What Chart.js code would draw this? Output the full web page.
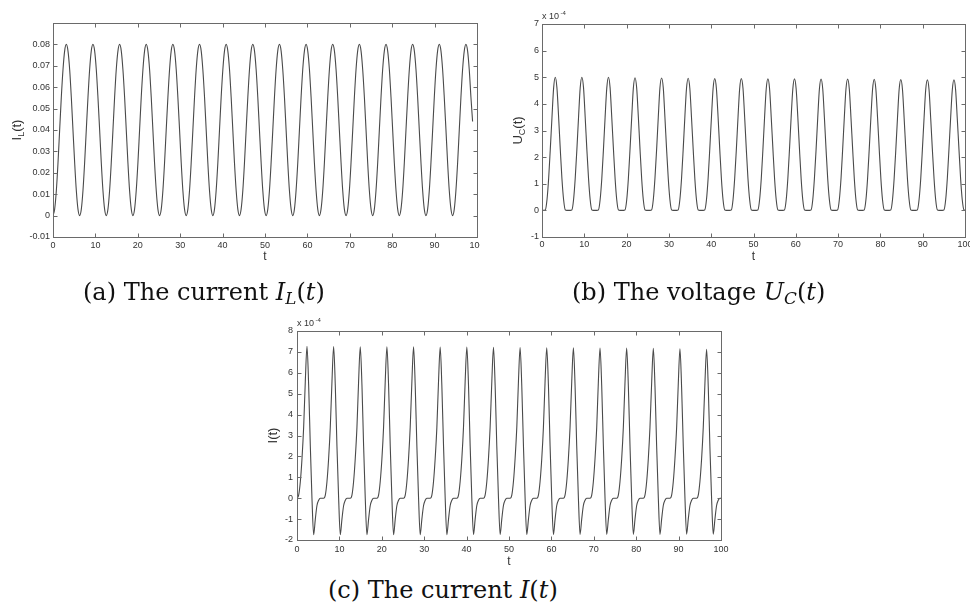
<!DOCTYPE html>
<html>
<head>
<meta charset="utf-8">
<script src="https://cdn.jsdelivr.net/npm/chart.js@4/dist/chart.umd.min.js"></script>
<style>
  html, body { margin: 0; padding: 0; background: #fff; }
  body { width: 970px; height: 615px; position: relative; overflow: hidden; }
  .panel { position: absolute; overflow: hidden; }
  .cap { position: absolute; font-family: "DejaVu Serif", serif; font-size: 24px; line-height: 24px; color: #111; white-space: nowrap; }
  .cap sub { font-size: 70%; vertical-align: -0.25em; line-height: 0; }
</style>
</head>
<body>
<div class="panel" style="left:0;top:0;width:480px;height:265px"><canvas id="chartIL" width="492" height="265"></canvas></div>
<div class="panel" style="left:490px;top:0;width:480px;height:265px"><canvas id="chartUC" width="490" height="265"></canvas></div>
<div class="panel" style="left:250px;top:300px;width:490px;height:275px"><canvas id="chartI" width="490" height="275"></canvas></div>

<div class="cap" style="left:83px;top:280px">(a) The current <i>I</i><sub><i>L</i></sub>(<i>t</i>)</div>
<div class="cap" style="left:572px;top:280px">(b) The voltage <i>U</i><sub><i>C</i></sub>(<i>t</i>)</div>
<div class="cap" style="left:328px;top:578px">(c) The current <i>I</i>(<i>t</i>)</div>

<script>
// time samples (one row per oscillation, ~2*pi long)
const tGrid = [
  0, 0.39, 0.79, 1.18, 1.57, 1.96, 2.36, 2.75, 3.14, 3.53, 3.93, 4.32, 4.71, 5.11, 5.50, 5.89,
  6.28, 6.68, 7.07, 7.46, 7.85, 8.25, 8.64, 9.03, 9.42, 9.82, 10.21, 10.60, 11.00, 11.39, 11.78, 12.17,
  12.57, 12.96, 13.35, 13.74, 14.14, 14.53, 14.92, 15.32, 15.71, 16.10, 16.49, 16.89, 17.28, 17.67, 18.06, 18.46,
  18.85, 19.24, 19.63, 20.03, 20.42, 20.81, 21.21, 21.60, 21.99, 22.38, 22.78, 23.17, 23.56, 23.95, 24.35, 24.74,
  25.13, 25.53, 25.92, 26.31, 26.70, 27.10, 27.49, 27.88, 28.27, 28.67, 29.06, 29.45, 29.85, 30.24, 30.63, 31.02,
  31.42, 31.81, 32.20, 32.59, 32.99, 33.38, 33.77, 34.16, 34.56, 34.95, 35.34, 35.74, 36.13, 36.52, 36.91, 37.31,
  37.70, 38.09, 38.48, 38.88, 39.27, 39.66, 40.06, 40.45, 40.84, 41.23, 41.63, 42.02, 42.41, 42.80, 43.20, 43.59,
  43.98, 44.37, 44.77, 45.16, 45.55, 45.95, 46.34, 46.73, 47.12, 47.52, 47.91, 48.30, 48.69, 49.09, 49.48, 49.87,
  50.27, 50.66, 51.05, 51.44, 51.84, 52.23, 52.62, 53.01, 53.41, 53.80, 54.19, 54.59, 54.98, 55.37, 55.76, 56.16,
  56.55, 56.94, 57.33, 57.73, 58.12, 58.51, 58.90, 59.30, 59.69, 60.08, 60.48, 60.87, 61.26, 61.65, 62.05, 62.44,
  62.83, 63.22, 63.62, 64.01, 64.40, 64.80, 65.19, 65.58, 65.97, 66.37, 66.76, 67.15, 67.54, 67.94, 68.33, 68.72,
  69.12, 69.51, 69.90, 70.29, 70.69, 71.08, 71.47, 71.86, 72.26, 72.65, 73.04, 73.44, 73.83, 74.22, 74.61, 75.01,
  75.40, 75.79, 76.18, 76.58, 76.97, 77.36, 77.75, 78.15, 78.54, 78.93, 79.33, 79.72, 80.11, 80.50, 80.90, 81.29,
  81.68, 82.07, 82.47, 82.86, 83.25, 83.65, 84.04, 84.43, 84.82, 85.22, 85.61, 86.00, 86.39, 86.79, 87.18, 87.57,
  87.96, 88.36, 88.75, 89.14, 89.54, 89.93, 90.32, 90.71, 91.11, 91.50, 91.89, 92.28, 92.68, 93.07, 93.46, 93.86,
  94.25, 94.64, 95.03, 95.43, 95.82, 96.21, 96.60, 97.00, 97.39, 97.78, 98.17, 98.57, 98.96, 99.35, 99.75, 100
];

// (a) current I_L(t)
const currentIL = [
  0, 0.003, 0.0117, 0.0247, 0.04, 0.0553, 0.0683, 0.077, 0.08, 0.077, 0.0683, 0.0553, 0.04, 0.0247, 0.0117, 0.003,
  0, 0.003, 0.0117, 0.0247, 0.04, 0.0553, 0.0683, 0.077, 0.08, 0.077, 0.0683, 0.0553, 0.04, 0.0247, 0.0117, 0.003,
  0, 0.003, 0.0117, 0.0247, 0.04, 0.0553, 0.0683, 0.077, 0.08, 0.077, 0.0683, 0.0553, 0.04, 0.0247, 0.0117, 0.003,
  0, 0.003, 0.0117, 0.0247, 0.04, 0.0553, 0.0683, 0.077, 0.08, 0.077, 0.0683, 0.0553, 0.04, 0.0247, 0.0117, 0.003,
  0, 0.003, 0.0117, 0.0247, 0.04, 0.0553, 0.0683, 0.077, 0.08, 0.077, 0.0683, 0.0553, 0.04, 0.0247, 0.0117, 0.003,
  0, 0.003, 0.0117, 0.0247, 0.04, 0.0553, 0.0683, 0.077, 0.08, 0.077, 0.0683, 0.0553, 0.04, 0.0247, 0.0117, 0.003,
  0, 0.003, 0.0117, 0.0247, 0.04, 0.0553, 0.0683, 0.077, 0.08, 0.077, 0.0683, 0.0553, 0.04, 0.0247, 0.0117, 0.003,
  0, 0.003, 0.0117, 0.0247, 0.04, 0.0553, 0.0683, 0.077, 0.08, 0.077, 0.0683, 0.0553, 0.04, 0.0247, 0.0117, 0.003,
  0, 0.003, 0.0117, 0.0247, 0.04, 0.0553, 0.0683, 0.077, 0.08, 0.077, 0.0683, 0.0553, 0.04, 0.0247, 0.0117, 0.003,
  0, 0.003, 0.0117, 0.0247, 0.04, 0.0553, 0.0683, 0.077, 0.08, 0.077, 0.0683, 0.0553, 0.04, 0.0247, 0.0117, 0.003,
  0, 0.003, 0.0117, 0.0247, 0.04, 0.0553, 0.0683, 0.077, 0.08, 0.077, 0.0683, 0.0553, 0.04, 0.0247, 0.0117, 0.003,
  0, 0.003, 0.0117, 0.0247, 0.04, 0.0553, 0.0683, 0.077, 0.08, 0.077, 0.0683, 0.0553, 0.04, 0.0247, 0.0117, 0.003,
  0, 0.003, 0.0117, 0.0247, 0.04, 0.0553, 0.0683, 0.077, 0.08, 0.077, 0.0683, 0.0553, 0.04, 0.0247, 0.0117, 0.003,
  0, 0.003, 0.0117, 0.0247, 0.04, 0.0553, 0.0683, 0.077, 0.08, 0.077, 0.0683, 0.0553, 0.04, 0.0247, 0.0117, 0.003,
  0, 0.003, 0.0117, 0.0247, 0.04, 0.0553, 0.0683, 0.077, 0.08, 0.077, 0.0683, 0.0553, 0.04, 0.0247, 0.0117, 0.003,
  0, 0.003, 0.0117, 0.0247, 0.04, 0.0553, 0.0683, 0.077, 0.08, 0.077, 0.0683, 0.0553, 0.044, null, null, null
];

// (b) voltage U_C(t), in units of 1e-4
const voltageUC = [
  0, 0, 0.02, 0.4, 1.2, 2.3, 3.5, 4.6, 5.0, 4.6, 3.5, 2.3, 1.2, 0.4, 0.02, 0,
  0, 0, 0.02, 0.4, 1.2, 2.3, 3.5, 4.6, 5.0, 4.6, 3.5, 2.3, 1.2, 0.4, 0.02, 0,
  0, 0, 0.02, 0.4, 1.2, 2.3, 3.5, 4.6, 5.0, 4.6, 3.5, 2.3, 1.2, 0.4, 0.02, 0,
  0, 0, 0.02, 0.4, 1.2, 2.3, 3.5, 4.6, 4.98, 4.6, 3.5, 2.3, 1.2, 0.4, 0.02, 0,
  0, 0, 0.02, 0.4, 1.2, 2.3, 3.5, 4.6, 4.97, 4.6, 3.5, 2.3, 1.2, 0.4, 0.02, 0,
  0, 0, 0.02, 0.4, 1.2, 2.3, 3.5, 4.58, 4.96, 4.58, 3.5, 2.3, 1.2, 0.4, 0.02, 0,
  0, 0, 0.02, 0.4, 1.2, 2.3, 3.5, 4.58, 4.95, 4.58, 3.5, 2.3, 1.2, 0.4, 0.02, 0,
  0, 0, 0.02, 0.4, 1.2, 2.3, 3.5, 4.58, 4.95, 4.58, 3.5, 2.3, 1.2, 0.4, 0.02, 0,
  0, 0, 0.02, 0.4, 1.2, 2.3, 3.5, 4.57, 4.94, 4.57, 3.5, 2.3, 1.2, 0.4, 0.02, 0,
  0, 0, 0.02, 0.4, 1.2, 2.3, 3.5, 4.57, 4.94, 4.57, 3.5, 2.3, 1.2, 0.4, 0.02, 0,
  0, 0, 0.02, 0.4, 1.2, 2.3, 3.49, 4.56, 4.93, 4.56, 3.49, 2.3, 1.2, 0.4, 0.02, 0,
  0, 0, 0.02, 0.4, 1.2, 2.3, 3.49, 4.56, 4.93, 4.56, 3.49, 2.3, 1.2, 0.4, 0.02, 0,
  0, 0, 0.02, 0.4, 1.2, 2.3, 3.48, 4.55, 4.92, 4.55, 3.48, 2.3, 1.2, 0.4, 0.02, 0,
  0, 0, 0.02, 0.4, 1.2, 2.3, 3.47, 4.54, 4.91, 4.54, 3.47, 2.3, 1.2, 0.4, 0.02, 0,
  0, 0, 0.02, 0.4, 1.2, 2.3, 3.46, 4.53, 4.9, 4.53, 3.46, 2.3, 1.2, 0.4, 0.02, 0,
  0, 0, 0.02, 0.4, 1.2, 2.3, 3.46, 4.53, 4.9, 4.53, 3.46, 2.3, 1.2, 0.4, 0.02, 0
];

// (c) current I(t), in units of 1e-4
const currentI = [
  0, 0.15, 0.8, 1.9, 3.4, 5.6, 7.27, 5.4, 2.5, 0, -1.75, -1.0, -0.35, -0.1, 0, 0,
  0, 0.15, 0.8, 1.9, 3.4, 5.6, 7.26, 5.4, 2.5, 0, -1.75, -1.0, -0.35, -0.1, 0, 0,
  0, 0.15, 0.8, 1.9, 3.4, 5.6, 7.25, 5.4, 2.5, 0, -1.75, -1.0, -0.35, -0.1, 0, 0,
  0, 0.15, 0.8, 1.9, 3.4, 5.6, 7.25, 5.4, 2.5, 0, -1.75, -1.0, -0.35, -0.1, 0, 0,
  0, 0.15, 0.8, 1.9, 3.4, 5.6, 7.24, 5.4, 2.5, 0, -1.75, -1.0, -0.35, -0.1, 0, 0,
  0, 0.15, 0.8, 1.9, 3.4, 5.6, 7.23, 5.4, 2.5, 0, -1.75, -1.0, -0.35, -0.1, 0, 0,
  0, 0.15, 0.8, 1.9, 3.4, 5.6, 7.23, 5.4, 2.5, 0, -1.74, -1.0, -0.35, -0.1, 0, 0,
  0, 0.15, 0.8, 1.9, 3.4, 5.6, 7.22, 5.4, 2.5, 0, -1.74, -1.0, -0.35, -0.1, 0, 0,
  0, 0.15, 0.8, 1.9, 3.4, 5.6, 7.21, 5.4, 2.5, 0, -1.74, -1.0, -0.35, -0.1, 0, 0,
  0, 0.15, 0.8, 1.9, 3.4, 5.6, 7.2, 5.4, 2.5, 0, -1.74, -1.0, -0.35, -0.1, 0, 0,
  0, 0.15, 0.8, 1.9, 3.4, 5.6, 7.2, 5.4, 2.5, 0, -1.73, -1.0, -0.35, -0.1, 0, 0,
  0, 0.15, 0.8, 1.9, 3.4, 5.6, 7.19, 5.4, 2.5, 0, -1.73, -1.0, -0.35, -0.1, 0, 0,
  0, 0.15, 0.8, 1.9, 3.4, 5.55, 7.18, 5.35, 2.5, 0, -1.73, -1.0, -0.35, -0.1, 0, 0,
  0, 0.15, 0.8, 1.9, 3.4, 5.55, 7.17, 5.35, 2.5, 0, -1.73, -1.0, -0.35, -0.1, 0, 0,
  0, 0.15, 0.8, 1.9, 3.4, 5.5, 7.15, 5.3, 2.45, 0, -1.72, -1.0, -0.35, -0.1, 0, 0,
  0, 0.15, 0.8, 1.9, 3.4, 5.5, 7.12, 5.3, 2.4, 0, -1.72, -1.0, -0.35, -0.1, 0, 0
];

const tRange = [0, 100, 10];
const ilRange = [-0.01, 0.09, 0.01];
const ucRange = [-1, 7, 1];
const iRange = [-2, 8, 1];

const tickFont = { family: '"Liberation Sans", Arial, sans-serif', size: 9 };
const labelFamily = '"Liberation Sans", Arial, sans-serif';

// box, inward ticks on all four sides, axis labels (matlab style)
const frame = {
  id: 'frame',
  afterDatasetsDraw(chart, args, opts) {
    const { ctx, chartArea: a, scales: { x, y } } = chart;
    ctx.save();
    ctx.strokeStyle = '#6a6a6a';
    ctx.lineWidth = 1;
    const L = Math.round(a.left) + 0.5, R = Math.round(a.right) + 0.5;
    const T = Math.round(a.top) + 0.5, B = Math.round(a.bottom) + 0.5;
    ctx.strokeRect(L, T, R - L, B - T);
    ctx.beginPath();
    x.ticks.forEach(tk => {
      const px = Math.round(x.getPixelForValue(tk.value)) + 0.5;
      ctx.moveTo(px, B); ctx.lineTo(px, B - 4);
      ctx.moveTo(px, T); ctx.lineTo(px, T + 4);
    });
    y.ticks.forEach(tk => {
      const py = Math.round(y.getPixelForValue(tk.value)) + 0.5;
      ctx.moveTo(L, py); ctx.lineTo(L + 4, py);
      ctx.moveTo(R, py); ctx.lineTo(R - 4, py);
    });
    ctx.stroke();

    ctx.fillStyle = '#333';
    ctx.textBaseline = 'middle';
    ctx.textAlign = 'center';
    ctx.font = '12px ' + labelFamily;
    ctx.fillText('t', (a.left + a.right) / 2, a.bottom + opts.tGap);

    if (opts.exponent) {
      ctx.textAlign = 'left';
      ctx.font = '9px ' + labelFamily;
      ctx.fillText('x 10', a.left, a.top - 7);
      const w = ctx.measureText('x 10').width;
      ctx.font = '6px ' + labelFamily;
      ctx.fillText(opts.exponent, a.left + w + 1.5, a.top - 11);
    }

    // rotated y label with optional subscript
    const big = '13px ' + labelFamily, small = '9px ' + labelFamily;
    ctx.font = big;
    const w1 = ctx.measureText(opts.yMain).width;
    const w3 = ctx.measureText(opts.yRest).width;
    ctx.font = small;
    const w2 = opts.ySub ? ctx.measureText(opts.ySub).width : 0;
    const total = w1 + w2 + w3;
    ctx.translate(opts.yLabelX, (a.top + a.bottom) / 2);
    ctx.rotate(-Math.PI / 2);
    ctx.textAlign = 'left';
    ctx.textBaseline = 'alphabetic';
    let cx = -total / 2;
    ctx.font = big;
    ctx.fillText(opts.yMain, cx, 5);
    cx += w1;
    if (opts.ySub) {
      ctx.font = small;
      ctx.fillText(opts.ySub, cx, 8);
      cx += w2;
    }
    ctx.font = big;
    ctx.fillText(opts.yRest, cx, 5);
    ctx.restore();
  }
};

function drawPlot(id, values, yRange, cfg) {
  return new Chart(document.getElementById(id), {
    type: 'line',
    data: {
      labels: tGrid,
      datasets: [{
        data: values,
        borderColor: '#4a4a4a',
        borderWidth: 1.1,
        pointRadius: 0,
        fill: false,
        spanGaps: false,
        cubicInterpolationMode: 'monotone'
      }]
    },
    options: {
      responsive: false,
      animation: false,
      events: [],
      layout: { padding: { left: 0, top: cfg.top, right: cfg.right, bottom: 0 } },
      plugins: {
        legend: { display: false },
        tooltip: { enabled: false },
        frame: cfg.frame
      },
      scales: {
        x: {
          type: 'linear',
          min: tRange[0], max: tRange[1],
          border: { display: false },
          grid: { display: false, drawTicks: false },
          ticks: { stepSize: tRange[2], padding: cfg.xPad, font: tickFont, color: '#333', maxRotation: 0, autoSkip: false },
          afterFit: s => { s.height = cfg.xH; }
        },
        y: {
          type: 'linear',
          min: yRange[0], max: yRange[1],
          border: { display: false },
          grid: { display: false, drawTicks: false },
          ticks: { stepSize: yRange[2], padding: cfg.yPad, font: tickFont, color: '#333', autoSkip: false, callback: cfg.yFmt },
          afterFit: s => { s.width = cfg.yW; }
        }
      }
    },
    plugins: [frame]
  });
}

drawPlot('chartIL', currentIL, ilRange, {
  top: 23, right: 15, xH: 28, yW: 53, xPad: 3, yPad: 3,
  yFmt: v => Math.abs(v) < 1e-9 ? '0' : (v > 0.0855 ? '' : v.toFixed(2)),
  frame: { yMain: 'I', ySub: 'L', yRest: '(t)', yLabelX: 16, tGap: 20 }
});

drawPlot('chartUC', voltageUC, ucRange, {
  top: 24, right: 15, xH: 28, yW: 52, xPad: 2, yPad: 3,
  yFmt: v => Math.round(v).toString(),
  frame: { yMain: 'U', ySub: 'C', yRest: '(t)', yLabelX: 27, tGap: 20, exponent: '-4' }
});

drawPlot('chartI', currentI, iRange, {
  top: 31, right: 19, xH: 35, yW: 47, xPad: 4, yPad: 4,
  yFmt: v => Math.round(v).toString(),
  frame: { yMain: 'I', ySub: '', yRest: '(t)', yLabelX: 22, tGap: 22, exponent: '-4' }
});
</script>
</body>
</html>
